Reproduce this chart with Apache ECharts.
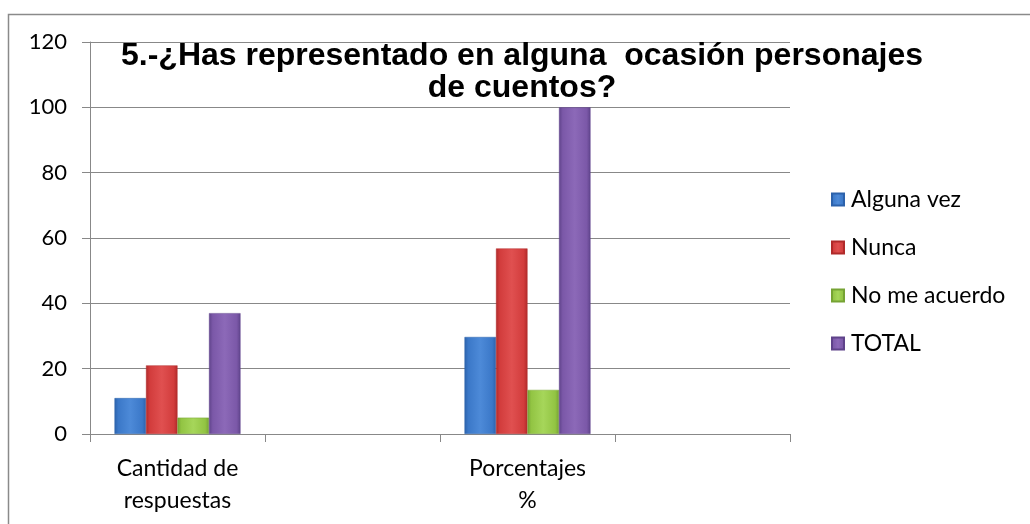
<!DOCTYPE html>
<html><head><meta charset="utf-8">
<script src="https://cdn.jsdelivr.net/npm/echarts@6/dist/echarts.min.js"></script>
<style>html,body{margin:0;padding:0;background:#fff}#c{width:1030px;height:524px}</style>
</head><body><div id="c"></div>
<script>
var categories = ['Cantidad de\nrespuestas', '', 'Porcentajes\n%', ''];
var seriesNames = ['Alguna vez', 'Nunca', 'No me acuerdo', 'TOTAL'];
var algunaVez = [11, null, 29.7, null];
var nunca = [21, null, 56.8, null];
var noMeAcuerdo = [5, null, 13.5, null];
var total = [37, null, 100, null];
var yTicks = {min: 0, max: 120, interval: 20};
var titleText = '5.-¿Has representado en alguna  ocasión personajes\nde cuentos?';

var palette = [
  {edge: '#2c62ab', base: '#3b78c8', light: '#4d8ad8'},
  {edge: '#b02a2a', base: '#d23c3c', light: '#e05050'},
  {edge: '#76a334', base: '#92c443', light: '#a6d65a'},
  {edge: '#5f438a', base: '#7b58a8', light: '#8c69b8'}
];
function grad(p){
  return new echarts.graphic.LinearGradient(0,0,1,0,[
    {offset:0,color:p.edge},{offset:0.12,color:p.base},
    {offset:0.5,color:p.light},{offset:0.88,color:p.base},{offset:1,color:p.edge}]);
}
var dataSets = [algunaVez, nunca, noMeAcuerdo, total];
var chart = echarts.init(document.getElementById('c'));
chart.setOption({
  animation:false,
  title:{text:titleText,left:522,top:40,textAlign:'center',padding:0,
    textStyle:{fontFamily:'Liberation Sans',fontSize:32,fontWeight:'bold',color:'#000',lineHeight:32}},
  legend:{orient:'vertical',left:831,top:188,padding:0,itemWidth:12,itemHeight:12,itemGap:25,icon:'rect',
    textStyle:{fontFamily:'Lato',fontSize:23,lineHeight:23,color:'#000',padding:[0,0,0,2]},data:seriesNames},
  grid:{left:90,right:240,top:42,bottom:90},
  xAxis:{type:'category',data:categories,boundaryGap:true,
    axisLine:{lineStyle:{color:'#888',width:1}},
    axisTick:{show:true,length:8,interval:0,lineStyle:{color:'#888'}},
    axisLabel:{interval:0,margin:19,fontFamily:'Lato',fontSize:23,color:'#000',lineHeight:32}},
  yAxis:{type:'value',min:yTicks.min,max:yTicks.max,interval:yTicks.interval,
    axisLine:{show:true,lineStyle:{color:'#888'}},
    axisTick:{show:true,length:8,lineStyle:{color:'#888'}},
    splitLine:{lineStyle:{color:'#888',width:1}},
    axisLabel:{margin:23,fontFamily:'Lato',fontSize:22,color:'#000'}},
  graphic:[{type:'rect',shape:{x:8.5,y:14.5,width:1040,height:540},
    style:{fill:'none',stroke:'#8a8a8a',lineWidth:1.5},z:-1}],
  series:dataSets.map(function(d,i){
    return {name:seriesNames[i],type:'bar',data:d,barGap:'0%',barCategoryGap:'28%',
      itemStyle:{color:grad(palette[i]),borderColor:palette[i].edge,borderWidth:0.5}};
  })
});
</script></body></html>
